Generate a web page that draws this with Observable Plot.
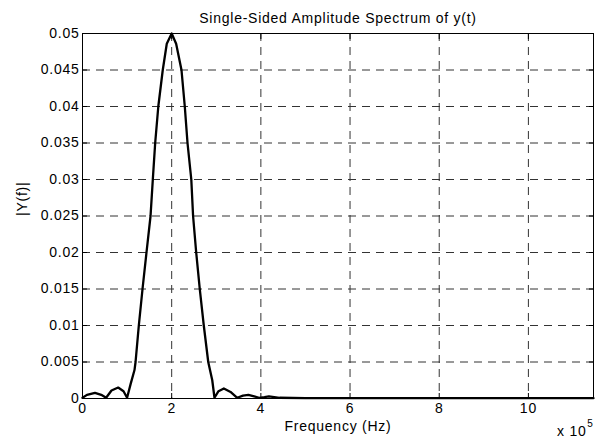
<!DOCTYPE html>
<html>
<head>
<meta charset="utf-8">
<script src="https://cdn.jsdelivr.net/npm/d3@7"></script>
<script src="https://cdn.jsdelivr.net/npm/@observablehq/plot@0.6"></script>
<style>
  html, body { margin: 0; padding: 0; background: #fff; }
  #chart svg { display: block; }
  #chart svg text { letter-spacing: 0.75px; }
</style>
</head>
<body>
<div id="chart"></div>
<script>
// Frequency in units of 10^5 Hz
const freq = [0, 0.1, 0.28, 0.42, 0.53, 0.65, 0.8, 0.92, 1.0, 1.08, 1.166, 1.19, 1.263, 1.346, 1.435, 1.526, 1.577, 1.63, 1.70, 1.80, 1.89, 2.0, 2.10, 2.22, 2.294, 2.355, 2.44, 2.48, 2.55, 2.63, 2.72, 2.82, 2.91, 2.96, 3.05, 3.17, 3.32, 3.47, 3.6, 3.72, 3.85, 3.96, 4.08, 4.18, 4.3, 4.42, 5, 6, 7, 8, 9, 10, 11, 11.46];
const amp  = [0.0001, 0.0005, 0.00077, 0.0005, 0.0001, 0.0011, 0.0015, 0.001, 0.0001, 0.002, 0.0039, 0.005, 0.01, 0.015, 0.02, 0.025, 0.03, 0.035, 0.04, 0.045, 0.0486, 0.05, 0.0486, 0.045, 0.04, 0.035, 0.03, 0.025, 0.02, 0.015, 0.01, 0.005, 0.0025, 0.0001, 0.001, 0.00137, 0.0009, 0.0001, 0.0004, 0.0005, 0.0003, 0.0001, 0.0002, 0.0003, 0.0002, 0.0001, 0.00005, 0.00005, 0.00005, 0.00005, 0.00005, 0.00005, 0.00005, 0.00005];
const xTicks = [0, 2, 4, 6, 8, 10];
const yTicks = [0, 0.005, 0.01, 0.015, 0.02, 0.025, 0.03, 0.035, 0.04, 0.045, 0.05];
const xDomain = [0, 11.46];
const yDomain = [0, 0.05];
const titleText = "Single-Sided Amplitude Spectrum of y(t)";
const xLabel = "Frequency (Hz)";
const yLabel = "|Y(f)|";
const expBase = "x 10";
const expPow = "5";

const data = freq.map((f, i) => ({f, a: amp[i]}));

const chart = Plot.plot({
  width: 599,
  height: 441,
  marginLeft: 82,
  marginRight: 6,
  marginTop: 33,
  marginBottom: 43,
  style: {fontFamily: "'Liberation Sans', Arial, sans-serif", fontSize: "14px", background: "#fff", color: "#000"},
  x: {domain: xDomain, ticks: xTicks},
  y: {domain: yDomain, ticks: yTicks},
  marks: [
    Plot.gridX(xTicks, {stroke: "#333", strokeOpacity: 1, strokeDasharray: "8,6", strokeWidth: 1}),
    Plot.gridY(yTicks, {stroke: "#333", strokeOpacity: 1, strokeDasharray: "8,6", strokeWidth: 1}),
    Plot.axisX({ticks: xTicks, tickSize: -5, tickPadding: 10, tickFormat: d => String(d), label: null, fontSize: 14}),
    Plot.axisX({anchor: "top", ticks: xTicks, tickSize: -5, tickFormat: () => "", label: null}),
    Plot.axisY({ticks: yTicks, tickSize: -5, tickPadding: 8, tickFormat: d => String(d), label: null, fontSize: 14}),
    Plot.axisY({anchor: "right", ticks: yTicks, tickSize: -5, tickFormat: () => "", label: null}),
    Plot.line(data, {x: "f", y: "a", stroke: "#000", strokeWidth: 2.3}),
    Plot.frame({stroke: "#000", strokeWidth: 1}),
    Plot.text([titleText], {frameAnchor: "top", dy: -11, lineAnchor: "bottom", fontSize: 14, fill: "#000"}),
    Plot.text([xLabel], {frameAnchor: "bottom", dy: 32, lineAnchor: "bottom", fontSize: 14, fill: "#000"}),
    Plot.text([yLabel], {frameAnchor: "left", dx: -60, rotate: -90, fontSize: 14, fill: "#000"}),
    Plot.text([expBase], {frameAnchor: "bottom-right", dx: -7, dy: 37, lineAnchor: "bottom", textAnchor: "end", fontSize: 14, fill: "#000"}),
    Plot.text([expPow], {frameAnchor: "bottom-right", dx: 0, dy: 28, lineAnchor: "bottom", textAnchor: "end", fontSize: 10, fill: "#000"})
  ]
});
document.getElementById("chart").appendChild(chart);
</script>
</body>
</html>
